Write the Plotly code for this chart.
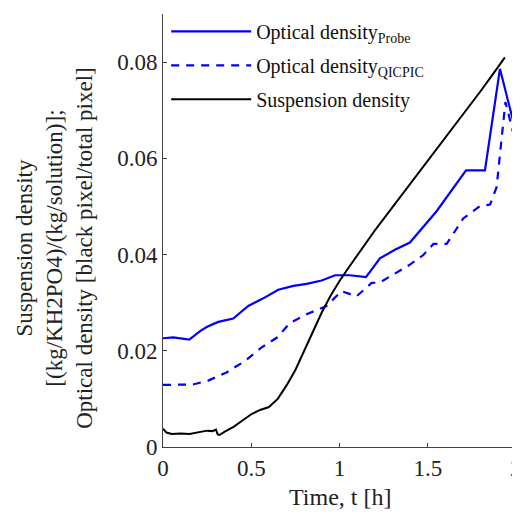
import plotly.graph_objects as go

# Optical density (probe), solid blue
t_probe = [0.0, 0.058, 0.149, 0.21, 0.25, 0.313, 0.398, 0.483, 0.568, 0.653, 0.739, 0.814, 0.899,
           0.975, 1.059, 1.15, 1.229, 1.314, 1.399, 1.55, 1.717, 1.824, 1.909, 2.0]
od_probe = [0.0226, 0.0228, 0.0223, 0.0241, 0.0250, 0.0260, 0.0267, 0.0293, 0.0309, 0.0327, 0.0335, 0.0339, 0.0346,
            0.0357, 0.0357, 0.0353, 0.0392, 0.0410, 0.0425, 0.0490, 0.0575, 0.0575, 0.0786, 0.0654]

# Optical density (QICPIC), dashed blue
t_qicpic = [0.0, 0.17, 0.256, 0.36, 0.465, 0.559, 0.644, 0.72, 0.814, 0.926, 1.011, 1.096, 1.182, 1.229,
            1.399, 1.475, 1.532, 1.607, 1.701, 1.796, 1.853, 1.89, 1.94, 2.0]
od_qicpic = [0.0129, 0.0130, 0.0138, 0.0155, 0.0179, 0.0207, 0.0227, 0.0258, 0.0276, 0.0293, 0.0324, 0.0313, 0.0341, 0.0342,
             0.0379, 0.0399, 0.0422, 0.0422, 0.0475, 0.0501, 0.0504, 0.0540, 0.0717, 0.0630]

# Suspension density, black
t_susp = [0.0, 0.02, 0.05, 0.1, 0.15, 0.2, 0.25, 0.28, 0.3, 0.31, 0.32, 0.35, 0.4, 0.45, 0.5, 0.55, 0.6,
          0.65, 0.7, 0.75, 0.8, 0.85, 0.9, 0.95, 1.0, 1.05, 1.1, 1.15, 1.2, 1.25, 1.3, 1.35, 1.4, 1.45,
          1.5, 1.55, 1.6, 1.65, 1.7, 1.75, 1.8, 1.85, 1.9, 1.937]
susp = [0.0038, 0.0030, 0.0027, 0.0028, 0.0027, 0.0031, 0.0034, 0.0033, 0.0036, 0.0026, 0.0025, 0.0032, 0.0042,
        0.0055, 0.0068, 0.0077, 0.0083, 0.0100, 0.0128, 0.0160, 0.0200, 0.0242, 0.0280, 0.0315, 0.0345, 0.0372,
        0.0398, 0.0425, 0.0450, 0.0474, 0.0498, 0.0522, 0.0546, 0.0570, 0.0594, 0.0618, 0.0643, 0.0667, 0.0690,
        0.0715, 0.0740, 0.0765, 0.0790, 0.0810]

x_ticks = [0, 0.5, 1, 1.5, 2]
x_tick_text = ["0", "0.5", "1", "1.5", "2"]
y_ticks = [0, 0.02, 0.04, 0.06, 0.08]
y_tick_text = ["0", "0.02", "0.04", "0.06", "0.08"]

x_title = "Time, t [h]"
y_title = "Suspension density<br>[(kg/KH2PO4)/(kg/solution)];<br>Optical density [black pixel/total pixel]"

FONT = "Liberation Serif"

fig = go.Figure()
fig.add_trace(go.Scatter(x=t_probe, y=od_probe, mode="lines", name="Optical density<sub>Probe</sub>",
                         line=dict(color="#0000ff", width=2.2), legendgroup="a"))
fig.add_trace(go.Scatter(x=t_qicpic, y=od_qicpic, mode="lines", name="Optical density<sub>QICPIC</sub>",
                         line=dict(color="#0000ff", width=2.2, dash="8px,7px"), legendgroup="b"))
fig.add_trace(go.Scatter(x=t_susp, y=susp, mode="lines", name="Suspension density",
                         line=dict(color="black", width=2), legendgroup="c"))

fig.add_annotation(text=x_title, xref="paper", yref="paper", x=0.5, y=-0.115,
                   xanchor="center", yanchor="middle", showarrow=False,
                   font=dict(family=FONT, size=24, color="#222"))
fig.add_annotation(text=y_title, xref="paper", yref="paper", x=-0.306, y=0.46,
                   xanchor="center", yanchor="middle", showarrow=False, textangle=-90,
                   font=dict(family=FONT, size=23, color="#222"))

# The page body has an 8px margin, so the figure is shrunk by 8px and margins adjusted
fig.update_layout(
    width=512, height=509,
    margin=dict(l=155, r=4, t=4, b=70),
    plot_bgcolor="white", paper_bgcolor="white",
    font=dict(family=FONT, size=23, color="#222"),
    showlegend=True,
    legend=dict(x=0.009, y=1.005, xanchor="left", yanchor="top", bgcolor="rgba(255,255,255,0)",
                font=dict(family=FONT, size=20, color="#111"), itemwidth=80, tracegroupgap=5),
    xaxis=dict(range=[0, 2], tickvals=x_ticks, ticktext=x_tick_text, ticks="inside", ticklen=4,
               tickcolor="#444", showline=True, linecolor="#444", linewidth=1, showgrid=False, zeroline=False,
               automargin=False, ticklabeloverflow="allow"),
    yaxis=dict(range=[0, 0.09], tickvals=y_ticks, ticktext=y_tick_text, ticks="inside", ticklen=4,
               tickcolor="#444", showline=True, linecolor="#444", linewidth=1, showgrid=False, zeroline=False,
               automargin=False),
)

fig.write_html("out.html")
